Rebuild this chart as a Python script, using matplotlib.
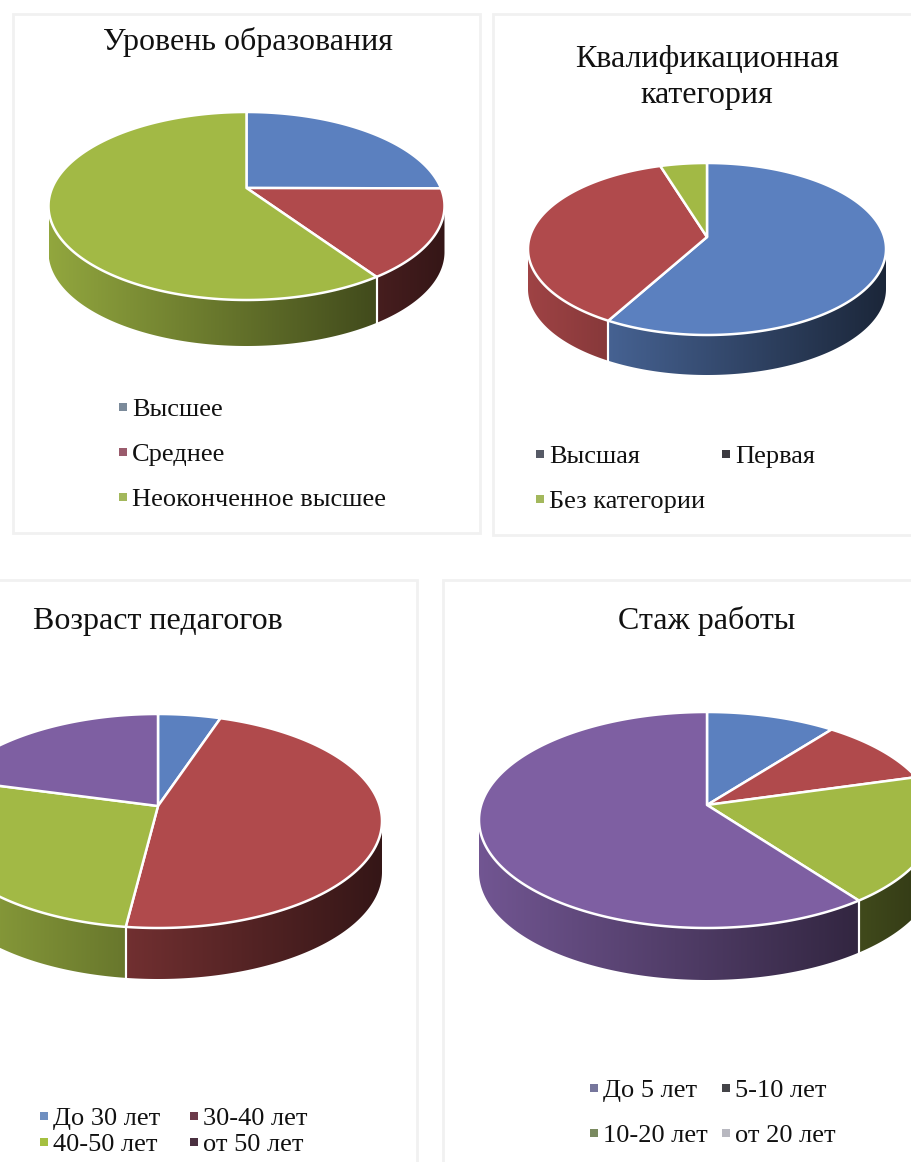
import numpy as np
import matplotlib
matplotlib.use('Agg')
import matplotlib.pyplot as plt
from matplotlib.colors import to_rgb
from matplotlib.patches import Polygon, Rectangle

plt.rcParams['font.family'] = ['Liberation Serif', 'DejaVu Serif']

BLUE = '#5b80bf'
RED = '#b04a4c'
GREEN = '#a2b945'
PURPLE = '#7e5fa2'

# values, percent
edu_values = [22, 16.6, 61.4]
edu_labels = ['Высшее', 'Среднее', 'Неоконченное высшее']
cat_values = [59.3, 36.5, 4.2]
cat_labels = ['Высшая', 'Первая', 'Без категории']
age_values = [4.5, 47.8, 29, 18.7]
age_labels = ['До 30 лет', '30-40 лет', '40-50 лет', 'от 50 лет']
exp_values = [9.2, 9.3, 19.9, 61.6]
exp_labels = ['До 5 лет', '5-10 лет', '10-20 лет', 'от 20 лет']


def pie3d(ax, values, colors, cx, cy, rx, ry, depth, lift=15):
    # cx, cy is the ellipse centre, the slices meet "lift" px above it
    edges = np.cumsum([0] + list(values)) / sum(values) * 2 * np.pi
    for a, b, col in zip(edges[:-1], edges[1:], colors):
        lo, hi = max(a, np.pi / 2), min(b, 3 * np.pi / 2)
        if hi > lo:
            t = np.linspace(lo, hi, 120)
            x = cx + rx * np.sin(t)
            y = cy - ry * np.cos(t)
            wall = Polygon(np.r_[np.c_[x, y], np.c_[x, y + depth][::-1]],
                           closed=True, fc='none', ec='none')
            ax.add_patch(wall)
            shade = np.linspace(0.9, 0.3, 256)[None, :, None] * np.array(to_rgb(col))
            im = ax.imshow(shade, extent=(cx - rx, cx + rx, cy + ry + depth, cy - ry),
                           aspect='auto', interpolation='bilinear', zorder=2)
            im.set_clip_path(wall)
            if hi == b and b < 3 * np.pi / 2:
                ax.plot([x[-1], x[-1]], [y[-1], y[-1] + depth], color='white', lw=1.5, zorder=3)
            if lo == a and a > np.pi / 2:
                ax.plot([x[0], x[0]], [y[0], y[0] + depth], color='white', lw=1.5, zorder=3)
    for a, b, col in zip(edges[:-1], edges[1:], colors):
        t = np.linspace(a, b, 200)
        x = cx + rx * np.sin(t)
        y = cy - ry * np.cos(t)
        pts = np.r_[[[cx, cy - lift]], np.c_[x, y]]
        ax.add_patch(Polygon(pts, closed=True, fc=col, ec='white', lw=1.8,
                             joinstyle='round', zorder=4))


def legend_item(ax, x, y, label, color):
    ax.add_patch(Rectangle((x - 13, y - 5), 8, 8, fc=color, ec='none', zorder=5))
    ax.text(x, y + 2, label, fontsize=19, color='#111111', va='center', ha='left', zorder=5)


fig = plt.figure(figsize=(9.11, 11.62), dpi=100)
ax = fig.add_axes([0, 0, 1, 1])
ax.set_autoscale_on(False)
ax.set_xlim(0, 911)
ax.set_ylim(1162, 0)
ax.axis('off')

# panel frames
for x0, y0, x1, y1 in [(13, 14, 480, 533), (493, 14, 925, 535),
                       (-20, 580, 417, 1180), (443, 580, 930, 1180)]:
    ax.add_patch(Rectangle((x0, y0), x1 - x0, y1 - y0, fc='white', ec='#f1f1f1', lw=2, zorder=1))

pie3d(ax, edu_values, [BLUE, RED, GREEN], 246.5, 206, 198, 94, 46, lift=18)
pie3d(ax, cat_values, [BLUE, RED, GREEN], 707, 249, 179, 86, 40, lift=12)
pie3d(ax, age_values, [BLUE, RED, GREEN, PURPLE], 158, 821, 224, 107, 51)
pie3d(ax, exp_values, [BLUE, RED, GREEN, PURPLE], 707, 820, 228, 108, 52)

ax.text(248, 42, 'Уровень образования', fontsize=23, ha='center', va='center', color='#111111')
ax.text(707, 59, 'Квалификационная', fontsize=23, ha='center', va='center', color='#111111')
ax.text(707, 95, 'категория', fontsize=23, ha='center', va='center', color='#111111')
ax.text(158, 621, 'Возраст педагогов', fontsize=23, ha='center', va='center', color='#111111')
ax.text(707, 621, 'Стаж работы', fontsize=23, ha='center', va='center', color='#111111')

legend_item(ax, 132, 408, edu_labels[0], '#7b8a9a')
legend_item(ax, 132, 453, edu_labels[1], '#9a5b6c')
legend_item(ax, 132, 498, edu_labels[2], '#a3b85c')

legend_item(ax, 549, 455, cat_labels[0], '#565a66')
legend_item(ax, 735, 455, cat_labels[1], '#3c3a40')
legend_item(ax, 549, 500, cat_labels[2], '#a3b85c')

legend_item(ax, 53, 1117, age_labels[0], '#6f8fc0')
legend_item(ax, 203, 1117, age_labels[1], '#6c3a4a')
legend_item(ax, 53, 1143, age_labels[2], '#a5c040')
legend_item(ax, 203, 1143, age_labels[3], '#4a3040')

legend_item(ax, 603, 1089, exp_labels[0], '#76769c')
legend_item(ax, 735, 1089, exp_labels[1], '#444448')
legend_item(ax, 603, 1134, exp_labels[2], '#7a8a60')
legend_item(ax, 735, 1134, exp_labels[3], '#b8b8c0')

fig.savefig('out.png', dpi=100, facecolor='white')
plt.close(fig)
